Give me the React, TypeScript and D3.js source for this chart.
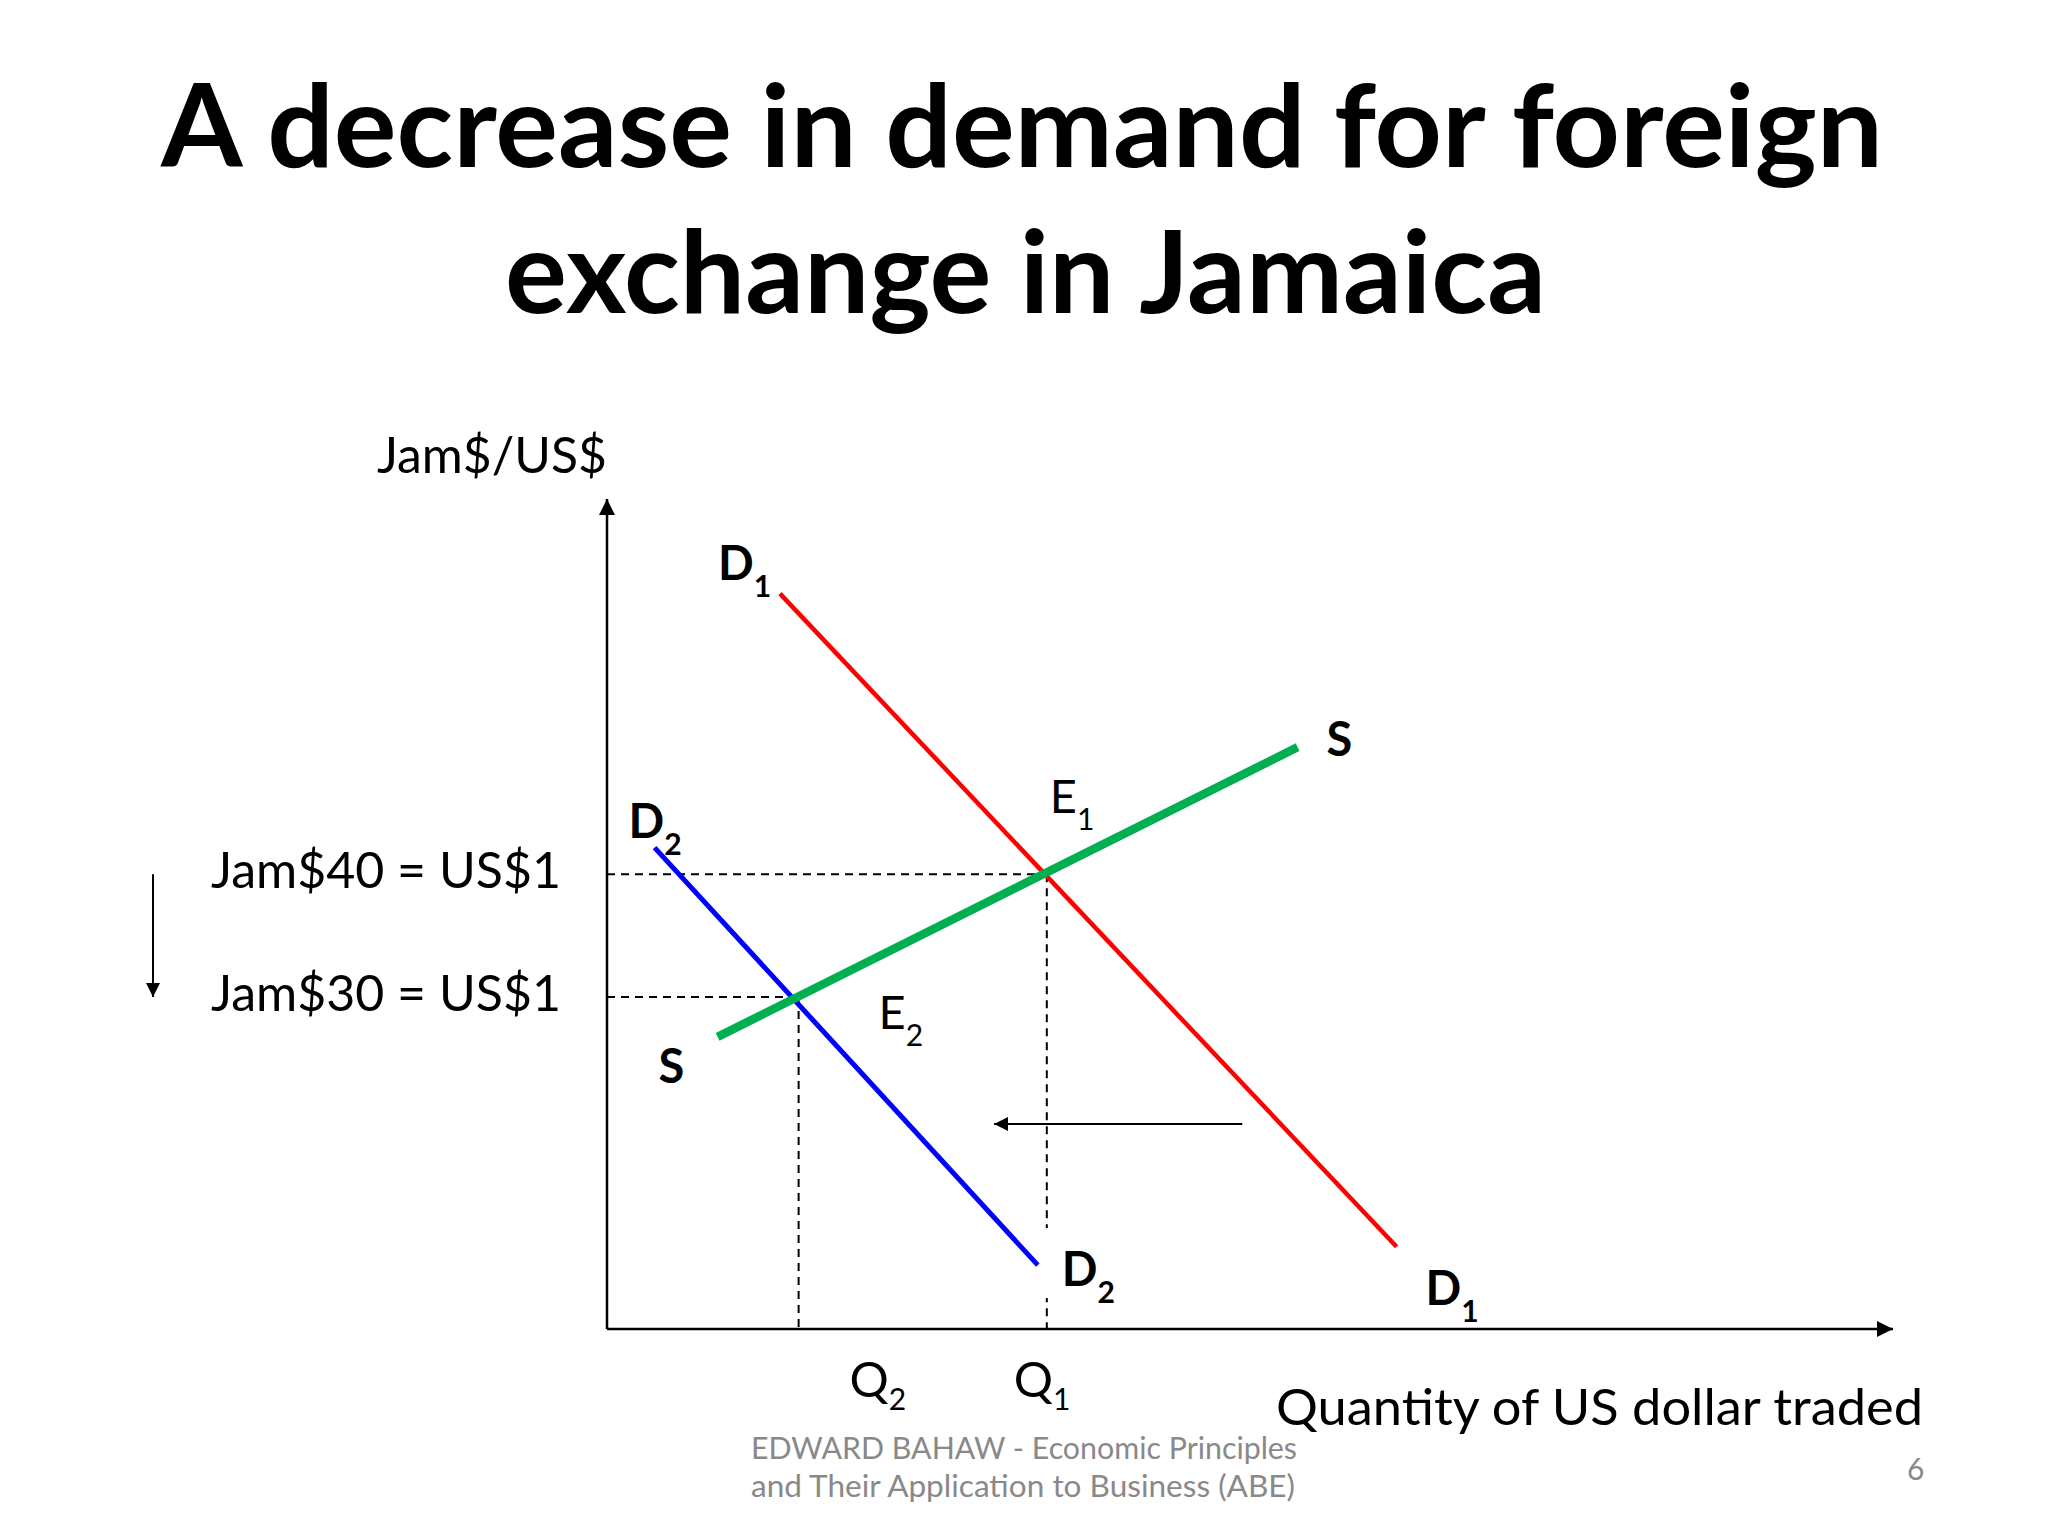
import React from 'react';
import * as d3 from 'd3';

const W = 2048;
const H = 1536;

// diagram units: quantity and price both run 0..100 along the axes
const d1Points: [number, number][] = [[13.45, 88.6], [61.4, 9.9]];
const d2Points: [number, number][] = [[3.7, 58.0], [33.5, 7.7]];
const supplyPoints: [number, number][] = [[8.6, 35.2], [53.7, 70.1]];

const eqNames = ['E', 'E'];
const eqSubs = ['1', '2'];
const eqQ = [34.2, 14.9];
const eqP = [54.8, 40.0];
const priceLabels = ['Jam$40 = US$1', 'Jam$30 = US$1'];
const qSubs = ['1', '2'];

const shiftFrom: [number, number] = [49.4, 24.7];
const shiftTo: [number, number] = [30.1, 24.7];

const title = ['A decrease in demand for foreign', 'exchange in Jamaica'];
const yTitle = 'Jam$/US$';
const xTitle = 'Quantity of US dollar traded';
const footer = ['EDWARD BAHAW - Economic Principles', 'and Their Application to Business (ABE)'];
const pageNo = '6';

const FONT = 'Lato, "Open Sans", sans-serif';

const Sub = ({ x, y, main, sub, bold, size, subSize, dy }: any) => (
    <text x={x} y={y} fontFamily={FONT} fontWeight={bold ? 700 : 400} fontSize={size} fill="#000">
        {main}
        <tspan dy={dy} fontSize={subSize}>{sub}</tspan>
    </text>
);

export default function App() {
    const x = d3.scaleLinear().domain([0, 100]).range([607, 1893]);
    const y = d3.scaleLinear().domain([0, 100]).range([1329, 499]);
    const line = d3.line<[number, number]>().x(d => x(d[0])).y(d => y(d[1]));

    const [d1a, d1b] = d1Points.map(p => [x(p[0]), y(p[1])]);
    const [d2a, d2b] = d2Points.map(p => [x(p[0]), y(p[1])]);
    const [sa, sb] = supplyPoints.map(p => [x(p[0]), y(p[1])]);

    const dash = '8 6';
    const qDx = [-33, 51];

    return (
        <svg width={W} height={H} style={{ position: 'absolute', left: 0, top: 0, background: '#fff' }}>
            <defs>
                <marker id="ah" markerUnits="userSpaceOnUse" markerWidth="18" markerHeight="18"
                    refX="16" refY="8" orient="auto">
                    <path d="M0,0 L16,8 L0,16 Z" fill="#000" />
                </marker>
                <marker id="ahs" markerUnits="userSpaceOnUse" markerWidth="16" markerHeight="16"
                    refX="14" refY="7" orient="auto">
                    <path d="M0,0 L14,7 L0,14 Z" fill="#000" />
                </marker>
            </defs>

            {/* title */}
            <text x={161} y={167} fontFamily={FONT} fontWeight={700} fontSize={114}
                textLength={1722} lengthAdjust="spacingAndGlyphs">{title[0]}</text>
            <text x={505} y={313} fontFamily={FONT} fontWeight={700} fontSize={114}
                textLength={1041} lengthAdjust="spacingAndGlyphs">{title[1]}</text>

            {/* axes */}
            <line x1={x(0)} y1={y(0)} x2={x(0)} y2={y(100)} stroke="#000" strokeWidth={2.5} markerEnd="url(#ah)" />
            <line x1={x(0)} y1={y(0)} x2={x(100)} y2={y(0)} stroke="#000" strokeWidth={2.5} markerEnd="url(#ah)" />
            <text x={377} y={473} fontFamily={FONT} fontSize={50} textLength={230} lengthAdjust="spacingAndGlyphs">{yTitle}</text>
            <text x={1276} y={1425} fontFamily={FONT} fontSize={50} textLength={647} lengthAdjust="spacingAndGlyphs">{xTitle}</text>

            {/* guide lines */}
            {eqQ.map((q, i) => (
                <g key={'g' + i}>
                    <line x1={x(0)} y1={y(eqP[i])} x2={x(q)} y2={y(eqP[i])} stroke="#000" strokeWidth={2} strokeDasharray={dash} />
                    <line x1={x(q)} y1={y(eqP[i])} x2={x(q)} y2={y(0)} stroke="#000" strokeWidth={2} strokeDasharray={dash} />
                </g>
            ))}

            {/* curves */}
            <path d={line(d1Points) || ''} stroke="#ff0000" strokeWidth={4.5} fill="none" />
            <path d={line(d2Points) || ''} stroke="#0000ff" strokeWidth={5} fill="none" />
            <path d={line(supplyPoints) || ''} stroke="#00b050" strokeWidth={8.5} fill="none" />

            {/* shift arrow */}
            <line x1={x(shiftFrom[0])} y1={y(shiftFrom[1])} x2={x(shiftTo[0])} y2={y(shiftTo[1])}
                stroke="#000" strokeWidth={2} markerEnd="url(#ahs)" />

            {/* price change arrow */}
            <line x1={153} y1={y(eqP[0])} x2={153} y2={y(eqP[1])} stroke="#000" strokeWidth={2} markerEnd="url(#ahs)" />

            {/* price labels */}
            {priceLabels.map((t, i) => (
                <text key={t} x={211} y={y(eqP[i]) + 14} fontFamily={FONT} fontSize={51}
                    textLength={350} lengthAdjust="spacingAndGlyphs">{t}</text>
            ))}

            {/* quantity labels */}
            {eqQ.map((q, i) => (
                <Sub key={'q' + i} x={x(q) + qDx[i]} y={1397} main="Q" sub={qSubs[i]} size={49} subSize={30} dy={13} />
            ))}

            {/* curve labels */}
            <Sub x={d1a[0] - 62} y={d1a[1] - 14} main="D" sub="1" bold size={47} subSize={30} dy={17} />
            <Sub x={d1b[0] + 29} y={d1b[1] + 58} main="D" sub="1" bold size={47} subSize={30} dy={17} />
            <Sub x={d2a[0] - 26} y={d2a[1] - 10} main="D" sub="2" bold size={47} subSize={30} dy={17} />
            <rect x={d2b[0] + 4} y={d2b[1] - 37} width={76} height={70} fill="#fff" />
            <Sub x={d2b[0] + 24} y={d2b[1] + 21} main="D" sub="2" bold size={47} subSize={30} dy={17} />
            <text x={sb[0] + 29} y={sb[1] + 9} fontFamily={FONT} fontWeight={700} fontSize={47}>S</text>
            <text x={sa[0] - 59} y={sa[1] + 46} fontFamily={FONT} fontWeight={700} fontSize={47}>S</text>

            {/* equilibrium labels */}
            <Sub x={x(eqQ[0]) + 3} y={y(eqP[0]) - 61} main={eqNames[0]} sub={eqSubs[0]} size={47} subSize={30} dy={17} />
            <Sub x={x(eqQ[1]) + 80} y={y(eqP[1]) + 32} main={eqNames[1]} sub={eqSubs[1]} size={47} subSize={30} dy={17} />

            {/* footer */}
            <text x={751} y={1459} fontFamily={FONT} fontSize={30} fill="#898989" textLength={546} lengthAdjust="spacingAndGlyphs">{footer[0]}</text>
            <text x={751} y={1497} fontFamily={FONT} fontSize={30} fill="#898989" textLength={544} lengthAdjust="spacingAndGlyphs">{footer[1]}</text>
            <text x={1907} y={1480} fontFamily={FONT} fontSize={30} fill="#898989">{pageNo}</text>
        </svg>
    );
}
